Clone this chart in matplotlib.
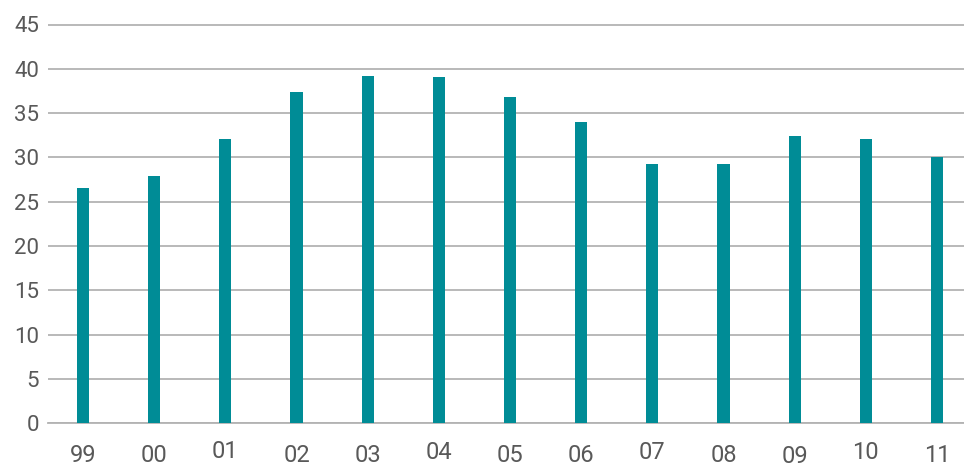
import matplotlib
matplotlib.use("Agg")
import matplotlib.pyplot as plt
import matplotlib.transforms as mtransforms

categories = ["99", "00", "01", "02", "03", "04", "05", "06", "07", "08", "09", "10", "11"]
values = [26.6, 27.9, 32.1, 37.4, 39.2, 39.1, 36.8, 34.0, 29.3, 29.3, 32.4, 32.1, 30.1]
y_ticks = [0, 5, 10, 15, 20, 25, 30, 35, 40, 45]
# small vertical jitter of category labels as seen in the reference (in pixels)
label_shift = [0, 0, 4, 0, 0, 3, 0, 0, 3, 0, -1, 3, 0]

plt.rcParams['font.family'] = ['Roboto', 'DejaVu Sans']
text_color = "#595959"
grid_color = "#b3b3b3"
bar_color = "#008C96"

fig = plt.figure(figsize=(9.64, 4.68), dpi=100)
W, H = 964, 468
px_per_unit = (423.3 - 24.5) / 45.0
ymax = 46
left_px, right_px = 47.5, 972.5
bottom_px = H - 423.3
ax = fig.add_axes([left_px / W, bottom_px / H, (right_px - left_px) / W, ymax * px_per_unit / H])

x = list(range(len(categories)))
ax.bar(x, values, width=0.17, color=bar_color, zorder=3)

ax.set_xlim(-0.5, len(categories) - 0.5)
ax.set_ylim(0, ymax)
ax.set_yticks(y_ticks)
ax.set_yticklabels([str(v) for v in y_ticks])
ax.yaxis.grid(True, color=grid_color, linewidth=1.3, zorder=0)
ax.set_axisbelow(True)
for s in ["top", "right", "left"]:
    ax.spines[s].set_visible(False)
ax.spines["bottom"].set_color(grid_color)
ax.spines["bottom"].set_linewidth(1.3)
ax.tick_params(axis="y", length=0, pad=6, labelsize=16, labelcolor=text_color)
ax.set_xticks([])

trans = mtransforms.blended_transform_factory(ax.transData, ax.transAxes)
for i, (lab, sh) in enumerate(zip(categories, label_shift)):
    off = mtransforms.offset_copy(trans, fig=fig, x=0, y=(-32 + sh) * 72 / 100, units="points")
    ax.text(i, 0, lab, transform=off, ha="center", va="center", fontsize=17, color=text_color)

fig.savefig("out.png", dpi=100)
